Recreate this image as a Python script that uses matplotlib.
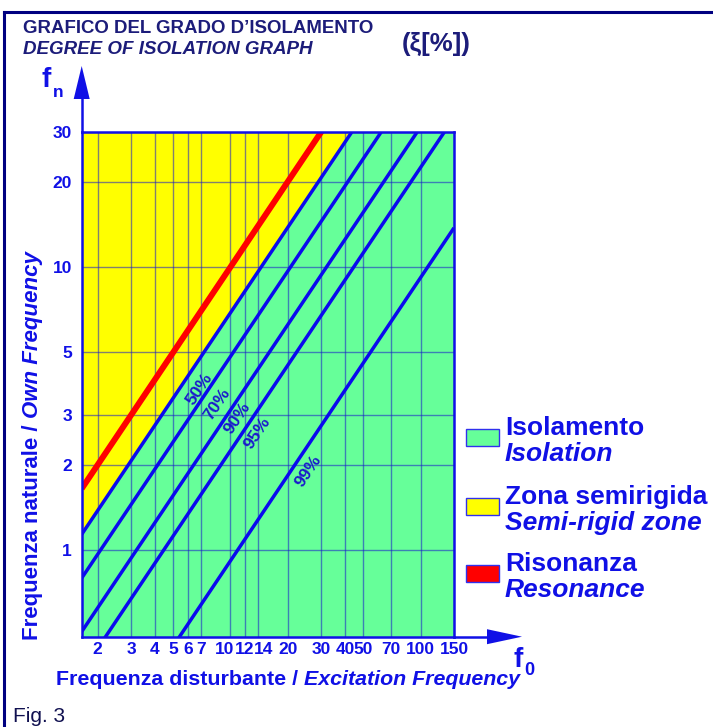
import numpy as np
import matplotlib
matplotlib.use('Agg')
import matplotlib.pyplot as plt
from matplotlib.patches import Polygon, Rectangle
from matplotlib.lines import Line2D

plt.rcParams['font.family'] = ['Liberation Sans', 'DejaVu Sans']
plt.rcParams['font.weight'] = 'bold'

# tick values on both log axes
f0_ticks = [2, 3, 4, 5, 6, 7, 10, 12, 14, 20, 30, 40, 50, 70, 100, 150]
fn_ticks = [1, 2, 3, 5, 10, 20, 30]
# small sideways nudges (pixels) so the crowded f0 labels do not collide
f0_tick_shift = {10: -6, 12: -1, 14: 5}

# each line is fn = f0 / ratio
resonance_ratio = 1.0
isolation_labels = ['50%', '70%', '90%', '95%', '99%']
isolation_ratios = [1.45, 2.07, 3.2, 4.45, 10.9]
# spot (f0, fn) where every percentage is written
label_f0 = [6.9, 8.5, 10.9, 13.8, 25.6]
label_fn = [3.71, 3.28, 2.93, 2.59, 1.90]

legend_main = ['Isolamento', 'Zona semirigida', 'Risonanza']
legend_sub = ['Isolation', 'Semi-rigid zone', 'Resonance']

f0_min, f0_max = 1.65, 150
fn_min, fn_max = 0.495, 30

green = '#66ff99'
yellow = '#ffff00'
red = '#ff0000'
blue = '#1010e6'
line_blue = '#0a0aee'
navy = '#1c1c7a'

W, H = 713, 727
fig = plt.figure(figsize=(W / 100, H / 100), dpi=100)


def fx(px):
    return px / W


def fy(py):
    return 1 - py / H


ax_l, ax_r, ax_t, ax_b = 81.7, 454, 132, 636.7
ax = fig.add_axes([fx(ax_l), fy(ax_b), (ax_r - ax_l) / W, (ax_b - ax_t) / H])
ax.set_xscale('log')
ax.set_yscale('log')
ax.set_xlim(f0_min, f0_max)
ax.set_ylim(fn_min, fn_max)
ax.set_facecolor(green)

f0 = np.geomspace(f0_min, f0_max, 60)
# semi-rigid zone: everything above the first isolation line
ax.fill_between(f0, f0 / isolation_ratios[0], fn_max, color=yellow, lw=0, zorder=1)

ax.plot(f0, f0 / resonance_ratio, color=red, lw=4.3, zorder=3, solid_capstyle='butt')
for r in isolation_ratios:
    ax.plot(f0, f0 / r, color=line_blue, lw=2.5, zorder=3, solid_capstyle='butt')

for lab, x, y in zip(isolation_labels, label_f0, label_fn):
    ax.text(x, y, lab, rotation=56, ha='center', va='center', color='#1a1acc',
            fontsize=12.5, zorder=4, rotation_mode='anchor')

ax.minorticks_off()
ax.set_xticks(f0_ticks, labels=[])
ax.set_yticks(fn_ticks, labels=[str(v) for v in fn_ticks])
ax.tick_params(length=0, labelcolor=blue, labelsize=12.5)
ax.tick_params(axis='y', pad=7)
for v in f0_ticks:
    ax.annotate(str(v), xy=(v, 0), xycoords=ax.get_xaxis_transform(),
                xytext=(f0_tick_shift.get(v, 0), -5), textcoords='offset pixels',
                ha='center', va='top', color=blue, fontsize=12.5, annotation_clip=False)
ax.set_axisbelow(False)
ax.grid(True, color='#1a1acc', alpha=0.55, lw=1, zorder=2)
for sp in ax.spines.values():
    sp.set_color(blue)
    sp.set_linewidth(1.8)
    sp.set_zorder(5)

# axis arrows, sized in pixels
aw, ah = ax_r - ax_l, ax_b - ax_t
tr = ax.transAxes
ax.add_line(Line2D([0, 0], [1, (ax_b - 99) / ah], transform=tr, color=blue, lw=1.8, clip_on=False))
ax.add_patch(Polygon([(-8 / aw, (ax_b - 99) / ah), (8 / aw, (ax_b - 99) / ah), (0, (ax_b - 66) / ah)],
                     closed=True, transform=tr, color=blue, clip_on=False, lw=0))
ax.add_line(Line2D([1, (487 - ax_l) / aw], [0, 0], transform=tr, color=blue, lw=1.8, clip_on=False))
ax.add_patch(Polygon([((487 - ax_l) / aw, -7.5 / ah), ((487 - ax_l) / aw, 7.5 / ah), ((522 - ax_l) / aw, 0)],
                     closed=True, transform=tr, color=blue, clip_on=False, lw=0))

# axis symbols
fig.text(fx(42), fy(87), 'f', fontsize=20, color=blue, va='baseline')
fig.text(fx(53), fy(97), 'n', fontsize=12.5, color=blue, va='baseline')
fig.text(fx(514), fy(667), 'f', fontsize=20, color=blue, va='baseline')
fig.text(fx(524.5), fy(675), '0', fontsize=13, color=blue, va='baseline')

# titles
fig.text(fx(23), fy(33), 'GRAFICO DEL GRADO D\u2019ISOLAMENTO', fontsize=13.4, color=navy, va='baseline')
fig.text(fx(23), fy(54), 'DEGREE OF ISOLATION GRAPH', fontsize=13.5, color=navy, style='italic', va='baseline')
fig.text(fx(436), fy(44), '(\u03be[%])', fontsize=18.5, color=navy, ha='center', va='center')

fig.text(fx(13), fy(722), 'Fig. 3', fontsize=15, fontweight='normal', color='#101050', va='baseline')

renderer = fig.canvas.get_renderer()

# axis titles: plain bold part followed by bold italic part
t1 = fig.text(fx(56), fy(685), 'Frequenza disturbante / ', fontsize=15.4, color=blue, va='baseline')
bb = t1.get_window_extent(renderer)
fig.text(bb.x1 / W, fy(685), 'Excitation Frequency', fontsize=15.4, color=blue, style='italic', va='baseline')

t2 = fig.text(fx(43), fy(640), 'Frequenza naturale / ', fontsize=16, color=blue, rotation=90,
              ha='left', va='bottom', rotation_mode='anchor')
bb = t2.get_window_extent(renderer)
fig.text(fx(43), bb.y1 / H, 'Own Frequency', fontsize=16, color=blue, style='italic', rotation=90,
         ha='left', va='bottom', rotation_mode='anchor')

# legend
box_y = [429, 498, 565]
box_c = [green, yellow, red]
for y, c, m, s in zip(box_y, box_c, legend_main, legend_sub):
    fig.patches.append(Rectangle((fx(466), fy(y + 16.5)), 33 / W, 16.5 / H, transform=fig.transFigure,
                                 facecolor=c, edgecolor='#3030ee', lw=1))
    fig.text(fx(505), fy(y + 6), m, fontsize=19, color=blue, va='baseline')
    fig.text(fx(505), fy(y + 32), s, fontsize=19, color=blue, style='italic', va='baseline')

# outer frame
fig.add_artist(Line2D([fx(4), 1], [fy(12), fy(12)], transform=fig.transFigure, color='#000080', lw=2.2))
fig.add_artist(Line2D([fx(4), fx(4)], [fy(12), 0], transform=fig.transFigure, color='#000080', lw=2.2))

fig.savefig('out.png', dpi=100)
